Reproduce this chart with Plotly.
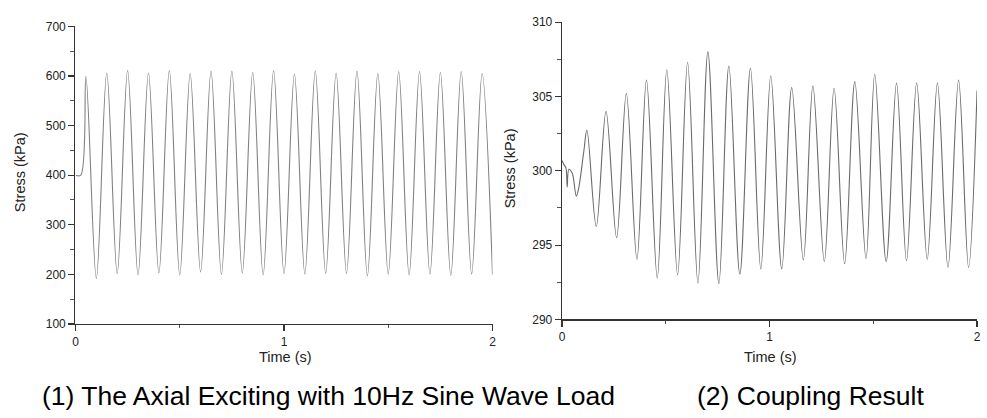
import plotly.graph_objects as go

# ---------------- data ----------------
# (1) Axial exciting load, 10 Hz sine: flat start, then peaks / troughs (kPa)
load_start_t = [0.000, 0.025]
load_start_v = [400, 400]
load_peak_t = [0.05, 0.15, 0.25, 0.35, 0.45, 0.55, 0.65, 0.75, 0.85, 0.95,
               1.05, 1.15, 1.25, 1.35, 1.45, 1.55, 1.65, 1.75, 1.85, 1.95]
load_peak_v = [599, 606, 611, 606, 611, 605, 610, 610, 607, 611,
               604, 610, 606, 610, 605, 609, 609, 607, 609, 605]
load_trough_t = [0.10, 0.20, 0.30, 0.40, 0.50, 0.60, 0.70, 0.80, 0.90, 1.00,
                 1.10, 1.20, 1.30, 1.40, 1.50, 1.60, 1.70, 1.80, 1.90, 2.00]
load_trough_v = [192, 202, 199, 203, 199, 205, 200, 203, 199, 202,
                 201, 202, 202, 197, 201, 199, 201, 198, 201, 200]

# (2) Coupling result: noisy start, then peaks / troughs (kPa)
resp_start_t = [0.000, 0.010, 0.019, 0.025, 0.033, 0.049, 0.055, 0.069, 0.080, 0.105]
resp_start_v = [300.7, 300.4, 300.2, 298.9, 300.1, 299.85, 299.5, 298.3, 298.8, 301.3]
resp_peak_t = [0.120, 0.212, 0.310, 0.407, 0.505, 0.605, 0.703, 0.804, 0.908, 1.006,
               1.107, 1.209, 1.311, 1.411, 1.507, 1.612, 1.709, 1.809, 1.911, 2.000]
resp_peak_v = [302.75, 304.0, 305.2, 306.1, 306.8, 307.3, 308.0, 307.05, 306.9, 306.4,
               305.6, 305.7, 305.55, 306.0, 306.5, 305.9, 305.9, 305.9, 306.1, 305.4]
resp_trough_t = [0.165, 0.263, 0.361, 0.459, 0.557, 0.655, 0.756, 0.857, 0.958, 1.059,
                 1.163, 1.264, 1.362, 1.465, 1.562, 1.660, 1.760, 1.860, 1.959]
resp_trough_v = [296.25, 295.5, 294.05, 292.8, 293.0, 292.45, 292.4, 293.05, 293.4, 293.4,
                 294.0, 293.9, 293.75, 294.1, 293.9, 293.95, 294.05, 293.5, 293.5]

x_ticks = [0, 1, 2]
load_y_ticks = [100, 200, 300, 400, 500, 600, 700]
resp_y_ticks = [290, 295, 300, 305, 310]
caption_left = "(1) The Axial Exciting with 10Hz Sine Wave Load"
caption_right = "(2) Coupling Result"


def merge(*pairs):
    pts = []
    for t, v in pairs:
        pts.extend(zip(t, v))
    pts.sort(key=lambda p: p[0])
    return [p[0] for p in pts], [p[1] for p in pts]


lt, lv = merge((load_start_t, load_start_v), (load_peak_t, load_peak_v),
               (load_trough_t, load_trough_v))
rt, rv = merge((resp_start_t, resp_start_v), (resp_peak_t, resp_peak_v),
               (resp_trough_t, resp_trough_v))

W, H = 987, 418
px = lambda x: x / W
py = lambda y: 1 - y / H

FONT = "Liberation Sans, Arial, sans-serif"

fig = go.Figure()
fig.add_trace(go.Scatter(x=lt, y=lv, mode="lines", xaxis="x", yaxis="y",
                         line=dict(color="#808080", width=1.1, shape="spline", smoothing=1),
                         showlegend=False, hoverinfo="skip"))
fig.add_trace(go.Scatter(x=rt, y=rv, mode="lines", xaxis="x2", yaxis="y2",
                         line=dict(color="#6a6a6a", width=1.1, shape="spline", smoothing=1),
                         showlegend=False, hoverinfo="skip"))

axis_common = dict(showgrid=False, zeroline=False, showline=True, linecolor="#333",
                   linewidth=1.3, ticks="outside", ticklen=6, tickwidth=1.2, tickcolor="#333",
                   tickfont=dict(family=FONT, size=12, color="#222"))


def minor(dt, ln):
    return dict(ticks="outside", ticklen=ln, tickwidth=1, tickcolor="#555", dtick=dt)


fig.update_layout(
    width=W, height=H, autosize=False,
    margin=dict(l=0, r=0, t=0, b=0),
    paper_bgcolor="white", plot_bgcolor="white",
    xaxis=dict(domain=[px(73), px(493)], range=[0, 2], anchor="y",
               tickvals=x_ticks, ticktext=[str(v) for v in x_ticks],
               minor=minor(0.5, 3), **axis_common),
    yaxis=dict(domain=[py(328), py(20)], range=[100, 700], anchor="x",
               tickvals=load_y_ticks, minor=minor(50, 4), **axis_common),
    xaxis2=dict(domain=[px(563), px(981)], range=[0, 2], anchor="y2",
                tickvals=x_ticks, ticktext=[str(v) for v in x_ticks],
                minor=minor(0.5, 3), **axis_common),
    yaxis2=dict(domain=[py(323.3), py(15.7)], range=[290, 310], anchor="x2",
                tickvals=resp_y_ticks, minor=minor(2.5, 4), **axis_common),
)

title_font = dict(family=FONT, size=14.5, color="#222")
cap_font = dict(family=FONT, size=26.5, color="black")
ann = [
    dict(text="Stress (kPa)", x=px(17), y=py(171), textangle=-90, font=title_font),
    dict(text="Stress (kPa)", x=px(511), y=py(166.5), textangle=-90, font=title_font),
    dict(text="Time (s)", x=px(285), y=py(362), font=title_font),
    dict(text="Time (s)", x=px(773), y=py(362), font=title_font),
    dict(text=caption_left, x=px(328), y=py(402), font=cap_font),
    dict(text=caption_right, x=px(813.5), y=py(402), font=cap_font),
]
for a in ann:
    fig.add_annotation(xref="paper", yref="paper", showarrow=False,
                       xanchor="center", yanchor="middle", **a)

fig.write_html("out.html",
               config={"displayModeBar": False, "staticPlot": True},
               post_script="document.body.style.margin='0';document.body.style.overflow='hidden';")
